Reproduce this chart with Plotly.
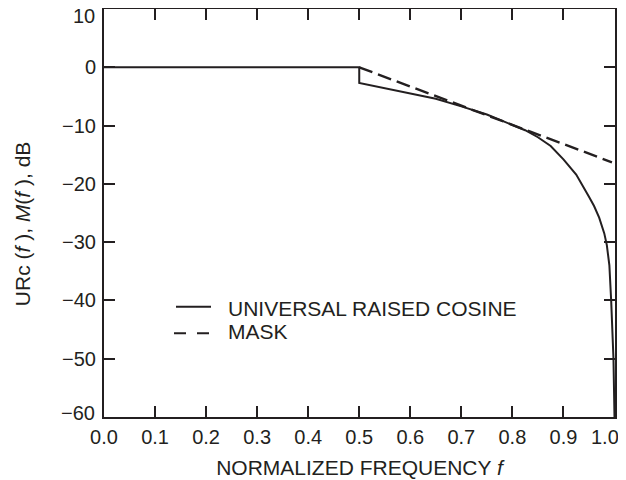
import plotly.graph_objects as go

# Universal raised cosine response (dB) vs normalized frequency
urc_f = [0.0, 0.5, 0.5, 0.55, 0.60, 0.65, 0.70, 0.75, 0.80, 0.825, 0.85, 0.875, 0.90,
         0.925, 0.95, 0.96, 0.97, 0.975, 0.98, 0.985, 0.99, 0.9935, 0.996, 0.998, 1.0]
urc_db = [0.0, 0.0, -2.7, -3.6, -4.5, -5.4, -6.7, -8.1, -9.9, -10.8, -12.0, -13.5, -15.8,
          -18.4, -22.2, -23.8, -25.8, -27.0, -28.5, -30.5, -34.0, -40.0, -45.0, -50.0, -60.0]

# Mask (dB)
mask_f = [0.5, 0.6, 0.7, 0.8, 0.9, 0.995]
mask_db = [0.0, -3.3, -6.6, -9.8, -13.1, -16.3]

legend_labels = ["UNIVERSAL RAISED COSINE", "MASK"]
x_title = "NORMALIZED FREQUENCY <i>f</i>"
y_title = "URc (<i>f</i> ), <i>M</i>(<i>f</i> ), dB"

x_ticks = [0.0, 0.1, 0.2, 0.3, 0.4, 0.5, 0.6, 0.7, 0.8, 0.9, 1.0]
y_ticks = [10, 0, -10, -20, -30, -40, -50, -60]

INK = "#231f20"
FONT = "Liberation Sans, Arial, Helvetica, sans-serif"


def ylab(v):
    return f"{v:.0f}".replace("-", "\u2212")


def xlab(v):
    return f"{v:.1f}"


# end labels are drawn pulled inward, as in the original figure
x_end = x_ticks[-1]
y_top, y_bot = y_ticks[0], y_ticks[-1]
x_text = ["" if v == x_end else xlab(v) for v in x_ticks]
y_text = ["" if v in (y_top, y_bot) else ylab(v) for v in y_ticks]

fig = go.Figure()
fig.add_trace(go.Scatter(x=urc_f, y=urc_db, mode="lines",
                         line=dict(color=INK, width=2, shape="linear"),
                         name=legend_labels[0], showlegend=False))
fig.add_trace(go.Scatter(x=mask_f, y=mask_db, mode="lines",
                         line=dict(color=INK, width=2.4, dash="14px,6px"),
                         name=legend_labels[1], showlegend=False))

tick_font = dict(size=20, color=INK, family=FONT)
fig.add_annotation(xref="x", x=x_end, yref="paper", y=0, xanchor="center",
                   yanchor="middle", xshift=-9, yshift=-20, showarrow=False,
                   text=xlab(x_end), font=tick_font)
fig.add_annotation(xref="paper", x=0, yref="y", y=y_top, xanchor="right",
                   yanchor="middle", xshift=-7, yshift=-7, showarrow=False,
                   text=ylab(y_top), font=tick_font)
fig.add_annotation(xref="paper", x=0, yref="y", y=y_bot, xanchor="right",
                   yanchor="middle", xshift=-7, yshift=4, showarrow=False,
                   text=ylab(y_bot), font=tick_font)

# manual legend
fig.add_shape(type="line", xref="paper", yref="paper",
              x0=0.1409, x1=0.2094, y0=0.2703, y1=0.2703,
              line=dict(color=INK, width=2))
fig.add_shape(type="line", xref="paper", yref="paper",
              x0=0.137, x1=0.2055, y0=0.2051, y1=0.2051,
              line=dict(color=INK, width=2, dash="12px,11px"))
fig.add_annotation(xref="paper", yref="paper", x=0.2388, y=0.265,
                   xanchor="left", yanchor="middle", showarrow=False,
                   text=legend_labels[0], font=dict(size=21, color=INK, family=FONT))
fig.add_annotation(xref="paper", yref="paper", x=0.2388, y=0.209,
                   xanchor="left", yanchor="middle", showarrow=False,
                   text=legend_labels[1], font=dict(size=21, color=INK, family=FONT))

# y axis title
fig.add_annotation(xref="paper", yref="paper", x=-0.1605, y=0.475,
                   xanchor="center", yanchor="middle", showarrow=False,
                   textangle=-90, text=y_title,
                   font=dict(size=21, color=INK, family=FONT))

axis_common = dict(showgrid=False, zeroline=False, showline=True, linecolor=INK,
                   linewidth=2, ticks="inside", ticklen=11, tickwidth=1.5,
                   tickcolor=INK, mirror="ticks", automargin=False,
                   ticklabeloverflow="allow", tickfont=tick_font)

fig.update_xaxes(range=[0, 1.001], tickvals=x_ticks, ticktext=x_text,
                 ticklabelstandoff=1,
                 title=dict(text=x_title,
                            font=dict(size=21, color=INK, family=FONT), standoff=13),
                 **axis_common)
fig.update_yaxes(range=[-60, 10], tickvals=y_ticks, ticktext=y_text,
                 ticklabelstandoff=2, **axis_common)

# the page body adds an 8px margin, so the figure is sized to fit the 626x480 window
fig.update_layout(width=618, height=472, margin=dict(l=96, r=11, t=1, b=63),
                  paper_bgcolor="white", plot_bgcolor="white",
                  font=dict(family=FONT, color=INK))

fig.write_html("out.html")
